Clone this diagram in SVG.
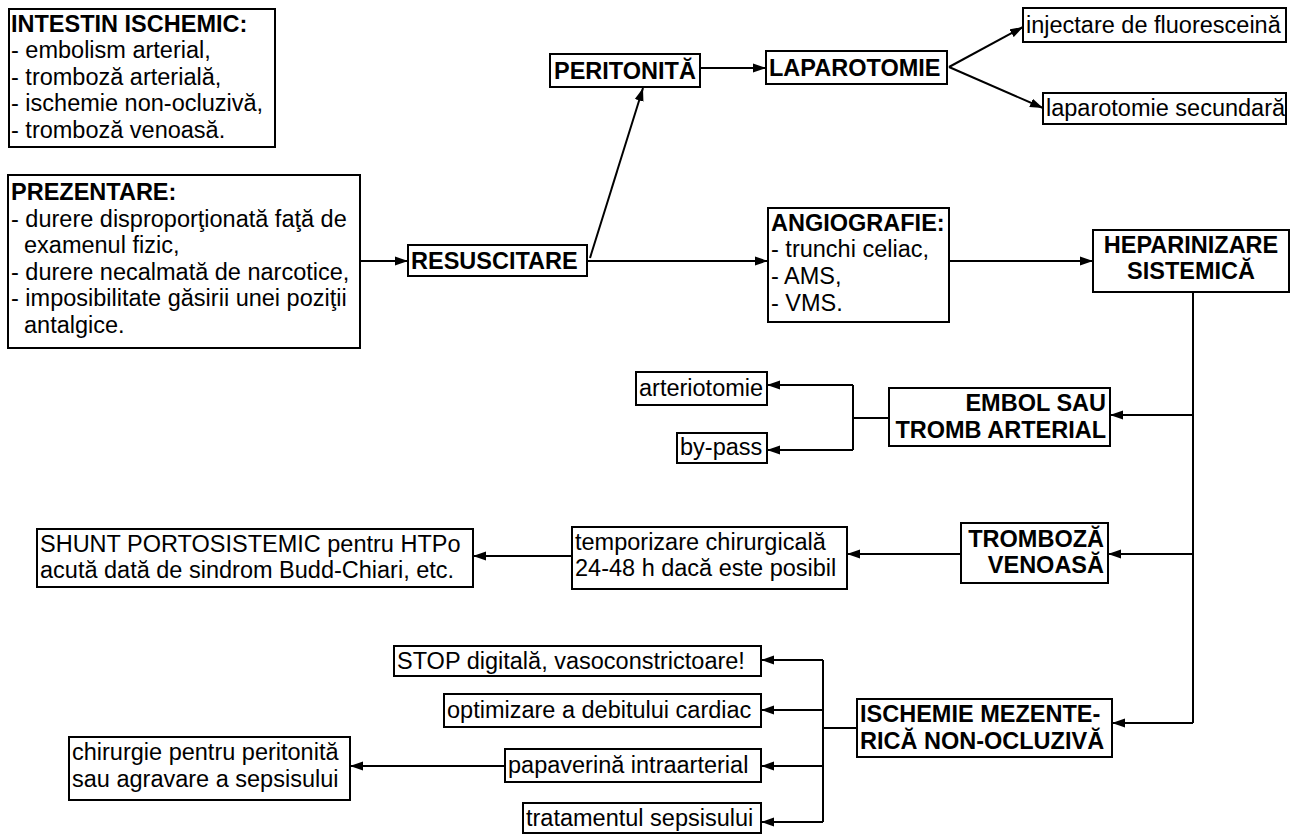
<svg xmlns="http://www.w3.org/2000/svg" width="1298" height="834" viewBox="0 0 1298 834">
  <style>
    .box { fill: #ffffff; stroke: #000000; stroke-width: 2; }
    .t { font-family: "Liberation Sans", Arial, sans-serif; font-size: 23.5px; fill: #000000; }
    .b { font-weight: bold; }
    .end { text-anchor: end; }
    .mid { text-anchor: middle; }
    .ln { fill: none; stroke: #000000; stroke-width: 2; }
    .ar { fill: none; stroke: #000000; stroke-width: 2; marker-end: url(#head); }
  </style>
  <defs>
    <marker id="head" markerUnits="userSpaceOnUse" markerWidth="14" markerHeight="10" refX="13" refY="5" orient="auto">
      <path d="M0,0.5 L13,5 L0,9.5 z" fill="#000000"/>
    </marker>
  </defs>
  <rect width="1298" height="834" fill="#ffffff"/>

  <!-- connectors -->
  <g id="connectors">
    <line class="ar" x1="360" y1="261" x2="408" y2="261"/>
    <line class="ar" x1="590" y1="258" x2="643" y2="88"/>
    <line class="ar" x1="588" y1="261" x2="768" y2="261"/>
    <line class="ar" x1="700" y1="68" x2="766" y2="68"/>
    <line class="ar" x1="949" y1="67" x2="1023" y2="27"/>
    <line class="ar" x1="949" y1="67" x2="1043" y2="108"/>
    <line class="ar" x1="949" y1="261" x2="1093" y2="261"/>
    <!-- trunk from HEPARINIZARE -->
    <polyline class="ln" points="1193,292 1193,723"/>
    <line class="ar" x1="1193" y1="415" x2="1110" y2="415"/>
    <line class="ar" x1="1193" y1="554" x2="1108" y2="554"/>
    <line class="ar" x1="1193" y1="723" x2="1112" y2="723"/>
    <!-- arterial branch -->
    <polyline class="ln" points="889,418 853,418"/>
    <polyline class="ln" points="853,385 853,450"/>
    <line class="ar" x1="853" y1="385" x2="767" y2="385"/>
    <line class="ar" x1="853" y1="450" x2="767" y2="450"/>
    <!-- venous branch -->
    <line class="ar" x1="961" y1="554" x2="847" y2="554"/>
    <line class="ar" x1="572" y1="556" x2="473" y2="556"/>
    <!-- non-occlusive branch -->
    <polyline class="ln" points="857,728 823,728"/>
    <polyline class="ln" points="823,660 823,822"/>
    <line class="ar" x1="823" y1="660" x2="761" y2="660"/>
    <line class="ar" x1="823" y1="710" x2="761" y2="710"/>
    <line class="ar" x1="823" y1="766" x2="761" y2="766"/>
    <line class="ar" x1="823" y1="822" x2="761" y2="822"/>
    <line class="ar" x1="505" y1="766" x2="350" y2="766"/>
  </g>

  <g id="intestin">
    <rect class="box" x="9" y="9" width="266" height="138"/>
    <text class="t b" x="11" y="31.5">INTESTIN ISCHEMIC:</text>
    <text class="t" x="11" y="58">- embolism arterial,</text>
    <text class="t" x="11" y="84.7">- tromboză arterială,</text>
    <text class="t" x="11" y="111.3">- ischemie non-ocluzivă,</text>
    <text class="t" x="11" y="138">- tromboză venoasă.</text>
  </g>

  <g id="prezentare">
    <rect class="box" x="8" y="175" width="352" height="173"/>
    <text class="t b" x="11" y="200">PREZENTARE:</text>
    <text class="t" x="11" y="226.6">- durere disproporţionată faţă de</text>
    <text class="t" x="24" y="253.2">examenul fizic,</text>
    <text class="t" x="11" y="279.8">- durere necalmată de narcotice,</text>
    <text class="t" x="11" y="306.4">- imposibilitate găsirii unei poziţii</text>
    <text class="t" x="24" y="333">antalgice.</text>
  </g>

  <g id="resuscitare">
    <rect class="box" x="408" y="245" width="179" height="31"/>
    <text class="t b" x="411" y="269">RESUSCITARE</text>
  </g>

  <g id="peritonita">
    <rect class="box" x="550" y="54" width="150" height="33"/>
    <text class="t b" x="554" y="79">PERITONITĂ</text>
  </g>

  <g id="laparotomie">
    <rect class="box" x="766" y="51" width="181" height="33"/>
    <text class="t b" x="769" y="76">LAPAROTOMIE</text>
  </g>

  <g id="fluoresceina">
    <rect class="box" x="1023" y="8" width="263" height="34"/>
    <text class="t" x="1026" y="33">injectare de fluoresceină</text>
  </g>

  <g id="laparotomie-secundara">
    <rect class="box" x="1043" y="93" width="243" height="31"/>
    <text class="t" x="1046" y="116">laparotomie secundară</text>
  </g>

  <g id="angiografie">
    <rect class="box" x="768" y="208" width="181" height="114"/>
    <text class="t b" x="771" y="230.5">ANGIOGRAFIE:</text>
    <text class="t" x="771" y="257">- trunchi celiac,</text>
    <text class="t" x="771" y="284">- AMS,</text>
    <text class="t" x="771" y="310.5">- VMS.</text>
  </g>

  <g id="heparinizare">
    <rect class="box" x="1093" y="230" width="196" height="62"/>
    <text class="t b mid" x="1191" y="253">HEPARINIZARE</text>
    <text class="t b mid" x="1191" y="279">SISTEMICĂ</text>
  </g>

  <g id="embol">
    <rect class="box" x="889" y="388" width="221" height="58"/>
    <text class="t b end" x="1106" y="411">EMBOL SAU</text>
    <text class="t b end" x="1106" y="438">TROMB ARTERIAL</text>
  </g>

  <g id="arteriotomie">
    <rect class="box" x="636" y="372" width="131" height="33"/>
    <text class="t" x="639" y="396">arteriotomie</text>
  </g>

  <g id="bypass">
    <rect class="box" x="677" y="433" width="90" height="30"/>
    <text class="t" x="680" y="455">by-pass</text>
  </g>

  <g id="tromboza-venoasa">
    <rect class="box" x="961" y="523" width="147" height="60"/>
    <text class="t b end" x="1104" y="547">TROMBOZĂ</text>
    <text class="t b end" x="1104" y="573">VENOASĂ</text>
  </g>

  <g id="temporizare">
    <rect class="box" x="572" y="527" width="275" height="62"/>
    <text class="t" x="575" y="550">temporizare chirurgicală</text>
    <text class="t" x="575" y="576">24-48 h dacă este posibil</text>
  </g>

  <g id="shunt">
    <rect class="box" x="37" y="529" width="436" height="58"/>
    <text class="t" x="40" y="552">SHUNT PORTOSISTEMIC pentru HTPo</text>
    <text class="t" x="40" y="578">acută dată de sindrom Budd-Chiari, etc.</text>
  </g>

  <g id="ischemie-neocluziva">
    <rect class="box" x="857" y="699" width="255" height="58"/>
    <text class="t b" x="860" y="722">ISCHEMIE MEZENTE-</text>
    <text class="t b" x="860" y="749">RICĂ NON-OCLUZIVĂ</text>
  </g>

  <g id="stop-vasoconstrictoare">
    <rect class="box" x="394" y="646" width="367" height="30"/>
    <text class="t" x="397" y="669">STOP digitală, vasoconstrictoare!</text>
  </g>

  <g id="debit-cardiac">
    <rect class="box" x="444" y="694" width="317" height="33"/>
    <text class="t" x="447" y="718">optimizare a debitului cardiac</text>
  </g>

  <g id="papaverina">
    <rect class="box" x="505" y="749" width="256" height="33"/>
    <text class="t" x="508" y="773">papaverină intraarterial</text>
  </g>

  <g id="sepsis">
    <rect class="box" x="523" y="803" width="238" height="30"/>
    <text class="t" x="526" y="826">tratamentul sepsisului</text>
  </g>

  <g id="chirurgie">
    <rect class="box" x="69" y="737" width="281" height="63"/>
    <text class="t" x="72" y="760">chirurgie pentru peritonită</text>
    <text class="t" x="72" y="787">sau agravare a sepsisului</text>
  </g>
</svg>
